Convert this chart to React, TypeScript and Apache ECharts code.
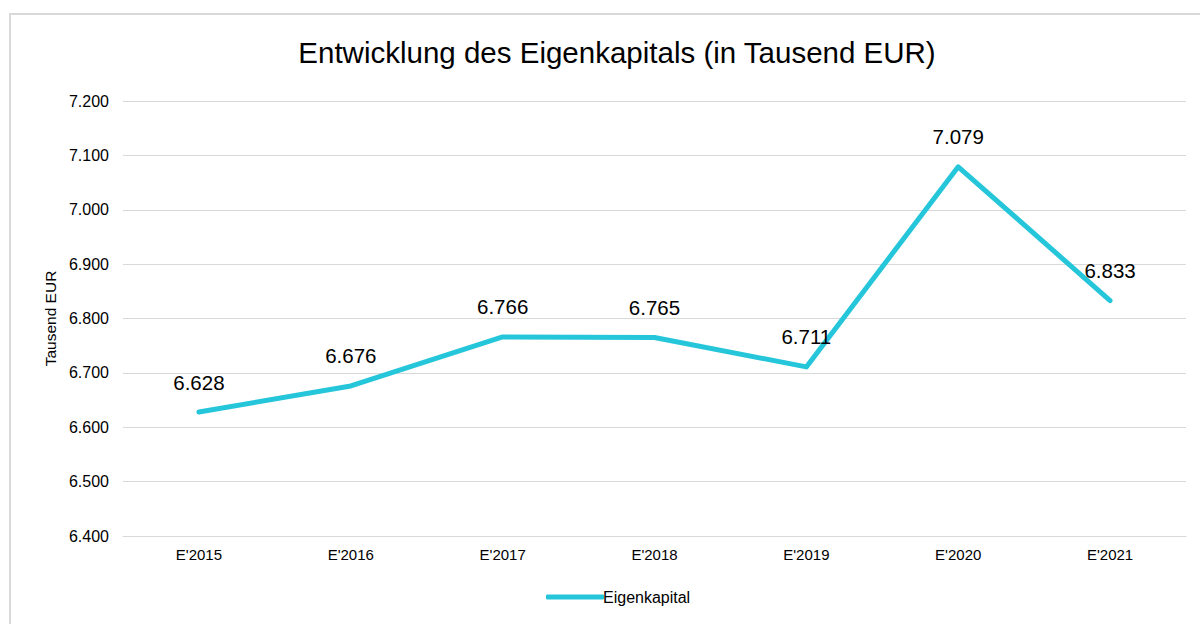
import React, { useEffect, useRef } from "react";
import * as echarts from "echarts";

const categories = ["E'2015", "E'2016", "E'2017", "E'2018", "E'2019", "E'2020", "E'2021"];
const eigenkapital = [6.628, 6.676, 6.766, 6.765, 6.711, 7.079, 6.833];
const seriesName = "Eigenkapital";
const titleText = "Entwicklung des Eigenkapitals (in Tausend EUR)";
const yAxisName = "Tausend EUR";

export default function App() {
  const ref = useRef<HTMLDivElement>(null);
  useEffect(() => {
    if (!ref.current) return;
    const chart = echarts.init(ref.current, null, { renderer: "svg" });
    const font = "Liberation Sans, Arial, sans-serif";
    const lineColor = "#26c6da";
    chart.setOption({
      animation: false,
      textStyle: { fontFamily: font },
      graphic: [
        {
          type: "rect",
          shape: { x: 10, y: 14, width: 1200, height: 620 },
          style: { fill: "none", stroke: "#d9d9d9", lineWidth: 2 },
          silent: true,
        },
      ],
      title: {
        text: titleText,
        left: 612,
        textAlign: "center",
        top: 32,
        textStyle: { fontFamily: font, fontSize: 29.5, fontWeight: "normal", color: "#000" },
      },
      legend: {
        bottom: 14,
        left: 541,
        itemWidth: 58,
        itemHeight: 5,
        itemGap: 10,
        icon: "roundRect",
        itemStyle: { color: lineColor, opacity: 1 },
        textStyle: { fontFamily: font, fontSize: 16, color: "#000", padding: [0, 0, 0, -6] },
        data: [{ name: seriesName, icon: "roundRect", itemStyle: { color: lineColor, opacity: 1 } }],
      },
      grid: { left: 123, right: 14, top: 101, bottom: 88, containLabel: false },
      xAxis: {
        type: "category",
        data: categories,
        boundaryGap: true,
        axisLine: { show: true, lineStyle: { color: "#d9d9d9", width: 1 } },
        axisTick: { show: false },
        axisLabel: { fontFamily: font, fontSize: 15, color: "#000", margin: 11 },
      },
      yAxis: {
        type: "value",
        min: 6.4,
        max: 7.2,
        interval: 0.1,
        name: yAxisName,
        nameLocation: "middle",
        nameRotate: 90,
        nameGap: 63,
        nameTextStyle: { fontFamily: font, fontSize: 15.5, color: "#000" },
        axisLine: { show: false },
        axisTick: { show: false },
        splitLine: { lineStyle: { color: "#d9d9d9", width: 1 } },
        axisLabel: {
          fontFamily: font,
          fontSize: 16,
          color: "#000",
          margin: 14,
          formatter: (v: number) => v.toFixed(3),
        },
      },
      series: [
        {
          name: seriesName,
          type: "line",
          data: eigenkapital,
          symbol: "circle",
          symbolSize: 1,
          showSymbol: true,
          lineStyle: { color: lineColor, width: 5, cap: "round", join: "round" },
          itemStyle: { color: lineColor, opacity: 0 },
          label: {
            show: true,
            position: "top",
            distance: 19,
            fontFamily: font,
            fontSize: 20.5,
            color: "#000",
            opacity: 1,
            formatter: (p: any) => Number(p.value).toFixed(3),
          },
        },
      ],
    });
    return () => chart.dispose();
  }, []);
  return (
    <div
      ref={ref}
      style={{ position: "fixed", left: 0, top: 0, width: 1200, height: 624, background: "#fff" }}
    />
  );
}
